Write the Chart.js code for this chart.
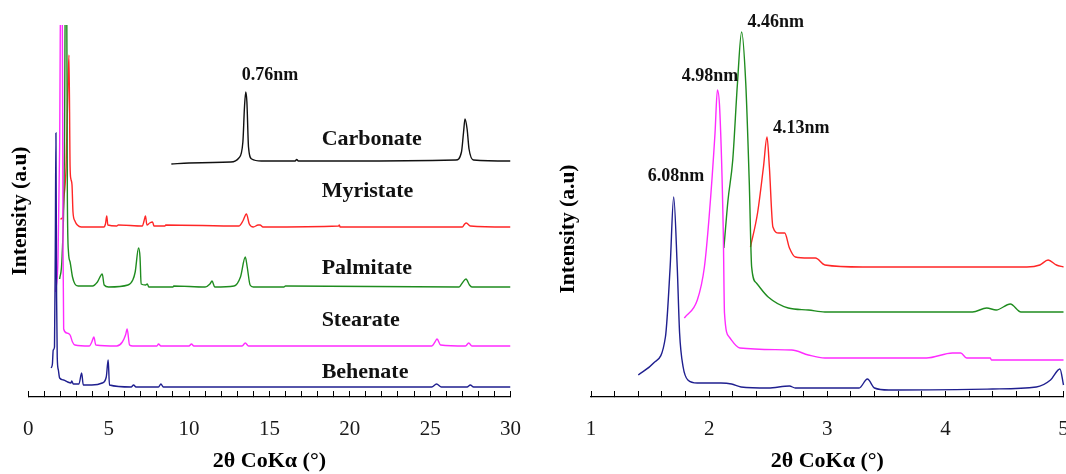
<!DOCTYPE html>
<html>
<head>
<meta charset="utf-8">
<script src="https://cdn.jsdelivr.net/npm/chart.js@4.4.1/dist/chart.umd.min.js"></script>
<style>
  html, body { margin: 0; padding: 0; background: #fff; }
  body { width: 1066px; height: 474px; position: relative; overflow: hidden; }
  #wl { position: absolute; left: 0; top: 0; width: 540px; height: 474px; }
  #wr { position: absolute; left: 540px; top: 0; width: 526px; height: 474px; }
</style>
</head>
<body>
<div id="wl"><canvas id="cl" width="540" height="474"></canvas></div>
<div id="wr"><canvas id="cr" width="526" height="474"></canvas></div>
<script>
// ---------- LEFT PANEL DATA (2θ, intensity a.u.) ----------
const behenateX = [1.42,1.5,1.55,1.63,1.68,1.72,1.76,1.8,1.87,1.95,2.2,2.45,2.65,2.7,2.8,3.15,3.32,3.42,3.95,4.6,4.85,4.97,5.05,6.4,6.55,6.7,8.1,8.25,8.4,25.1,25.4,25.7,27.3,27.5,27.7,30];
const behenateY = [29,33,47,50,150,264,100,40,27,19,17,15,14,16,13,13,24,12,12,14,20,37,12,10,12,10,10,13,10,10,13,10,10,12,10,10];

const stearateX = [1.7,1.85,1.95,2.03,2.1,2.16,2.2,2.4,2.6,2.75,2.9,3.8,3.95,4.08,4.2,5.5,5.85,6.05,6.15,6.3,6.5,8.0,8.1,8.25,10.0,10.15,10.3,13.3,13.5,13.7,25.1,25.3,25.43,25.65,27.2,27.4,27.6,30];
const stearateY = [105,140,250,450,450,150,68,64,62,55,52,51,55,60,52,51,55,62,68,52,51,51,53,51,51,53,51,51,54,51,51,55,58,52,51,54,51,51];

const palmitateX = [1.95,2.1,2.25,2.32,2.38,2.43,2.5,2.6,2.75,2.9,3.1,4.0,4.3,4.6,4.72,5.0,6.2,6.5,6.65,6.86,6.95,7.02,7.3,7.4,7.5,9.0,9.05,11.0,11.3,11.43,11.6,12.8,13.2,13.5,13.62,13.8,14.0,15.9,16.0,26.8,27.0,27.23,27.45,27.6,30];
const palmitateY = [118,140,250,450,450,200,145,135,120,113,111,111,115,123,112,110,112,117,125,149,140,113,112,113,110,110,111,110,113,116,110,111,120,140,130,112,110,110,111,110,114,118,112,110,110];

const myristateX = [2.0,2.15,2.22,2.28,2.35,2.45,2.53,2.6,2.65,2.72,2.78,2.9,3.05,3.3,4.7,4.8,4.88,4.95,5.5,5.6,7.1,7.2,7.29,7.38,7.55,7.73,7.82,8.5,8.55,13.1,13.35,13.57,13.75,14.0,14.3,14.42,14.6,19.3,19.35,19.4,27.0,27.15,27.25,27.5,30];
const myristateY = [178,180,200,210,230,300,342,230,218,212,185,176,172,170,170,173,181,172,171,172,171,176,181,172,174,175,171,171,172,171,176,183,173,170,172,172,170,171,172,170,170,173,174,171,170];

const carbonateX = [8.9,10,12.6,13.1,13.35,13.45,13.53,13.6,13.7,13.9,14.5,16.6,16.7,16.8,20,26.6,26.95,27.08,27.17,27.3,27.42,27.7,30];
const carbonateY = [233,234,235,239,255,290,305,295,250,238,236,236,237.5,236,236,237,245,265,278,268,248,237,236];

// ---------- RIGHT PANEL DATA (2θ 1–5°) ----------
const rBehenateX = [1.4,1.53,1.63,1.67,1.7,1.73,1.75,1.78,1.82,1.9,2.0,2.1,2.19,2.27,2.5,2.68,2.73,3.27,3.34,3.4,3.52,4.4,4.77,4.89,4.97,5.0];
const rBehenateY = [22,34,60,130,200,130,64,30,17,14,14,14,13,10,9,11,9,9,18,9,7,8,10,17,28,12];

const rStearateX = [1.79,1.9,1.96,2.0,2.05,2.07,2.09,2.12,2.13,2.17,2.26,2.7,2.84,2.98,3.84,4.06,4.13,4.18,4.38,4.39,5.0];
const rStearateY = [79,97,130,180,264,307,287,164,84,60,49,47,42,39,39,44,44,39,39,37,37];

const rPalmitateX = [2.125,2.16,2.2,2.24,2.275,2.31,2.34,2.36,2.4,2.5,2.67,2.84,2.98,4.23,4.35,4.43,4.55,4.64,5.0];
const rPalmitateY = [149,197,237,314,365,314,214,130,114,100,89,87,85,85,89,87,93,85,85];

const rMyristateX = [2.35,2.41,2.46,2.49,2.51,2.54,2.59,2.64,2.68,2.73,2.84,2.9,2.98,3.3,4.69,4.8,4.87,4.94,5.0];
const rMyristateY = [150,184,230,260,230,170,164,164,149,140,139,139,132,130,130,132,137,132,130];

// ---------- TEXT ----------
const seriesNames = ['Behenate','Stearate','Palmitate','Myristate','Carbonate'];
const leftPeakLabel = '0.76nm';
const rightPeakLabels = ['6.08nm','4.98nm','4.46nm','4.13nm'];
const xTitle = '2θ CoKα (°)';
const yTitle = 'Intensity (a.u)';

// ---------- STYLES ----------
const COLORS = { navy:'#1f1f8f', magenta:'#ff2bff', green:'#1f8c1f', red:'#ff2626', black:'#111111' };
const SERIF = "'Liberation Serif', 'Times New Roman', serif";

function pts(xs, ys) { return xs.map((x, i) => ({ x: x, y: ys[i] })); }
function ds(xs, ys, color, clip) {
  return { data: pts(xs, ys), borderColor: color, borderWidth: 1.4, pointRadius: 0,
           cubicInterpolationMode: 'monotone', fill: false, clip: clip };
}

// text annotation plugin (anchored in data coordinates)
function textPlugin(items) {
  return {
    id: 'txt',
    afterDatasetsDraw(chart) {
      const ctx = chart.ctx, xs = chart.scales.x, ys = chart.scales.y;
      ctx.save();
      ctx.fillStyle = '#111';
      ctx.textBaseline = 'middle';
      items.forEach(it => {
        ctx.font = it.font;
        ctx.textAlign = it.align;
        ctx.fillText(it.text, xs.getPixelForValue(it.x), ys.getPixelForValue(it.y));
      });
      ctx.restore();
    }
  };
}

function isInt(v) { return Math.abs(v - Math.round(v)) < 1e-6; }

function makeOptions(cfg) {
  return {
    responsive: false, animation: false, devicePixelRatio: 1,
    layout: { autoPadding: false, padding: { left: 0, right: cfg.padRight, top: cfg.padTop, bottom: 0 } },
    plugins: { legend: { display: false }, tooltip: { enabled: false } },
    scales: {
      x: {
        type: 'linear', min: cfg.xmin, max: cfg.xmax,
        border: { display: true, color: '#000', width: 1.2 },
        grid: { display: true, drawOnChartArea: false, drawTicks: true, tickLength: -6, color: '#000', lineWidth: 1 },
        ticks: {
          stepSize: cfg.step, autoSkip: false, maxRotation: 0, padding: 26,
          color: '#1a1a1a', font: { family: SERIF, size: 21 },
          callback: cfg.tickCb
        },
        title: { display: true, text: xTitle, color: '#000', font: { family: SERIF, size: 22, weight: 'bold' },
                 padding: { top: 0, bottom: -1 } },
        afterFit(s) { s.height = 77; s.paddingLeft = 0; s.paddingRight = 0; }
      },
      y: {
        min: 0, max: cfg.ymax,
        border: { display: false },
        grid: { display: false },
        ticks: { display: false },
        title: { display: true, text: yTitle, color: '#000', font: { family: SERIF, size: 21.5, weight: 'bold' },
                 padding: { top: cfg.titlePad, bottom: 0 } },
        afterFit(s) { s.width = cfg.yWidth; s.paddingTop = 0; s.paddingBottom = 0; }
      }
    }
  };
}

// ----- LEFT CHART -----
new Chart(document.getElementById('cl'), {
  type: 'line',
  data: { datasets: [
    ds(behenateX, behenateY, COLORS.navy, true),
    ds(stearateX, stearateY, COLORS.magenta, true),
    ds(palmitateX, palmitateY, COLORS.green, true),
    ds(myristateX, myristateY, COLORS.red, true),
    ds(carbonateX, carbonateY, COLORS.black, true)
  ] },
  options: makeOptions({
    xmin: 0, xmax: 30, step: 1, ymax: 372, padRight: 29.5, padTop: 25, yWidth: 28.3, titlePad: 8,
    tickCb: v => (isInt(v) && Math.round(v) % 5 === 0) ? String(Math.round(v)) : ''
  }),
  plugins: [textPlugin([
    { text: seriesNames[4], x: 18.25, y: 258, align: 'left', font: `bold 22px ${SERIF}` },
    { text: seriesNames[3], x: 18.25, y: 206, align: 'left', font: `bold 22px ${SERIF}` },
    { text: seriesNames[2], x: 18.25, y: 129, align: 'left', font: `bold 22px ${SERIF}` },
    { text: seriesNames[1], x: 18.25, y: 77, align: 'left', font: `bold 22px ${SERIF}` },
    { text: seriesNames[0], x: 18.25, y: 25, align: 'left', font: `bold 22px ${SERIF}` },
    { text: leftPeakLabel, x: 15.04, y: 322, align: 'center', font: `bold 18px ${SERIF}` }
  ])]
});

// ----- RIGHT CHART -----
new Chart(document.getElementById('cr'), {
  type: 'line',
  data: { datasets: [
    ds(rBehenateX, rBehenateY, COLORS.navy, false),
    ds(rStearateX, rStearateY, COLORS.magenta, false),
    ds(rPalmitateX, rPalmitateY, COLORS.green, false),
    ds(rMyristateX, rMyristateY, COLORS.red, false)
  ] },
  options: makeOptions({
    xmin: 1, xmax: 5, step: 0.2, ymax: 336, padRight: 2.5, padTop: 61, yWidth: 51, titlePad: 15.6,
    tickCb: v => isInt(v) ? String(Math.round(v)) : ''
  }),
  plugins: [textPlugin([
    { text: rightPeakLabels[0], x: 1.72, y: 221, align: 'center', font: `bold 18px ${SERIF}` },
    { text: rightPeakLabels[1], x: 2.007, y: 321, align: 'center', font: `bold 18px ${SERIF}` },
    { text: rightPeakLabels[2], x: 2.565, y: 375, align: 'center', font: `bold 18px ${SERIF}` },
    { text: rightPeakLabels[3], x: 2.78, y: 269, align: 'center', font: `bold 18px ${SERIF}` }
  ])]
});
</script>
</body>
</html>
